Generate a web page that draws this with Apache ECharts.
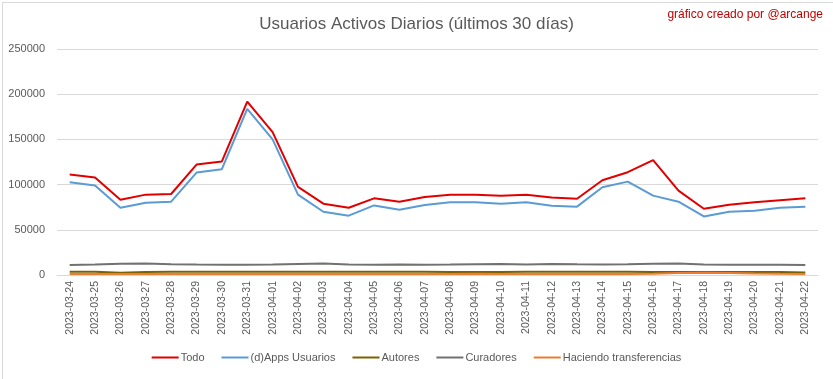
<!DOCTYPE html>
<html>
<head>
<meta charset="utf-8">
<script src="https://cdn.jsdelivr.net/npm/echarts@6/dist/echarts.min.js"></script>
<style>
html,body{margin:0;padding:0;background:#fff;}
#c{width:833px;height:379px;}
</style>
</head>
<body>
<div id="c"></div>
<script>
const categories = ["2023-03-24","2023-03-25","2023-03-26","2023-03-27","2023-03-28","2023-03-29","2023-03-30","2023-03-31","2023-04-01","2023-04-02","2023-04-03","2023-04-04","2023-04-05","2023-04-06","2023-04-07","2023-04-08","2023-04-09","2023-04-10","2023-04-11","2023-04-12","2023-04-13","2023-04-14","2023-04-15","2023-04-16","2023-04-17","2023-04-18","2023-04-19","2023-04-20","2023-04-21","2023-04-22"];
const todo = [111100,107800,83300,88900,89600,122200,125600,191900,158100,97400,78900,74400,84800,81100,86300,88900,88900,87800,88900,85600,84400,104800,113700,127000,93300,73300,77800,80400,82600,84800];
const appsUsuarios = [102600,98900,74400,80000,81100,113300,117000,183700,150000,88900,70000,65600,77000,72200,77400,80400,80400,78900,80400,76700,75600,97000,103300,87800,81100,64800,70000,71100,74400,75600];
const autores = [3700,3600,2600,3300,3500,3500,3500,3500,3500,3500,3500,3500,3500,3500,3500,3400,3300,3400,3500,3500,3500,3500,3500,3400,3300,3300,3400,3400,3400,2800];
const curadores = [11200,11500,12500,12800,11800,11500,11400,11400,11500,12200,12600,11700,11400,11500,11400,11500,12000,12300,11600,12300,11800,11500,11800,12500,12600,11500,11400,11300,11300,11200];
const transferencias = [1100,1100,1200,1100,1100,1100,1100,1100,1100,1100,1100,1100,1100,1100,1100,1100,1400,1200,1100,1100,1100,1100,1100,1500,2300,2400,2200,1700,1300,1100];
const yTicks = {min:0, max:250000, interval:50000};

const font = "'Liberation Sans Narrow', 'Liberation Sans', sans-serif";
const chart = echarts.init(document.getElementById('c'), null, {renderer:'canvas'});
function s(name, data, color){
  return {name, type:'line', data, symbol:'none', smooth:false,
    lineStyle:{color, width:2}, itemStyle:{color}, emphasis:{disabled:true}};
}
chart.setOption({
  animation:false,
  backgroundColor:'#fff',
  textStyle:{fontFamily:font},
  title:{text:'Usuarios Activos Diarios (últimos 30 días)', left:'center', top:11,
    textStyle:{fontFamily:font, fontSize:17, fontWeight:'normal', color:'#595959'}},
  graphic:[
    {type:'text', right:10, top:9, style:{text:'gráfico creado por @arcange', fill:'#C00000', font:"12px 'Liberation Sans Narrow', 'Liberation Sans', sans-serif"}},
    {type:'rect', left:0, top:0, shape:{x:0.5,y:0.5,width:832,height:378}, style:{fill:'none', stroke:'#D9D9D9', lineWidth:1}, silent:true, z:-1}
  ],
  legend:{bottom:11, left:'center', itemWidth:27, itemHeight:2, itemGap:17,
    icon:'rect',
    textStyle:{fontFamily:font, fontSize:11, color:'#595959', padding:[0,0,0,-3]},
    data:['Todo','(d)Apps Usuarios','Autores','Curadores','Haciendo transferencias']},
  grid:{left:57, right:15, top:49, bottom:104, containLabel:false},
  xAxis:{type:'category', data:categories, boundaryGap:true,
    axisLine:{show:true, lineStyle:{color:'#D9D9D9'}}, axisTick:{show:false},
    axisLabel:{rotate:90, interval:0, fontFamily:font, fontSize:10.5, color:'#595959', margin:6}},
  yAxis:{type:'value', min:yTicks.min, max:yTicks.max, interval:yTicks.interval,
    axisLine:{show:false}, axisTick:{show:false},
    axisLabel:{fontFamily:font, fontSize:11, color:'#595959', margin:12, formatter:(v)=>String(v)},
    splitLine:{lineStyle:{color:'#D9D9D9'}}},
  series:[
    s('Todo', todo, '#E00000'),
    s('(d)Apps Usuarios', appsUsuarios, '#5B9BD5'),
    s('Autores', autores, '#7F6000'),
    s('Curadores', curadores, '#717171'),
    s('Haciendo transferencias', transferencias, '#ED7D31')
  ]
});
</script>
</body>
</html>
